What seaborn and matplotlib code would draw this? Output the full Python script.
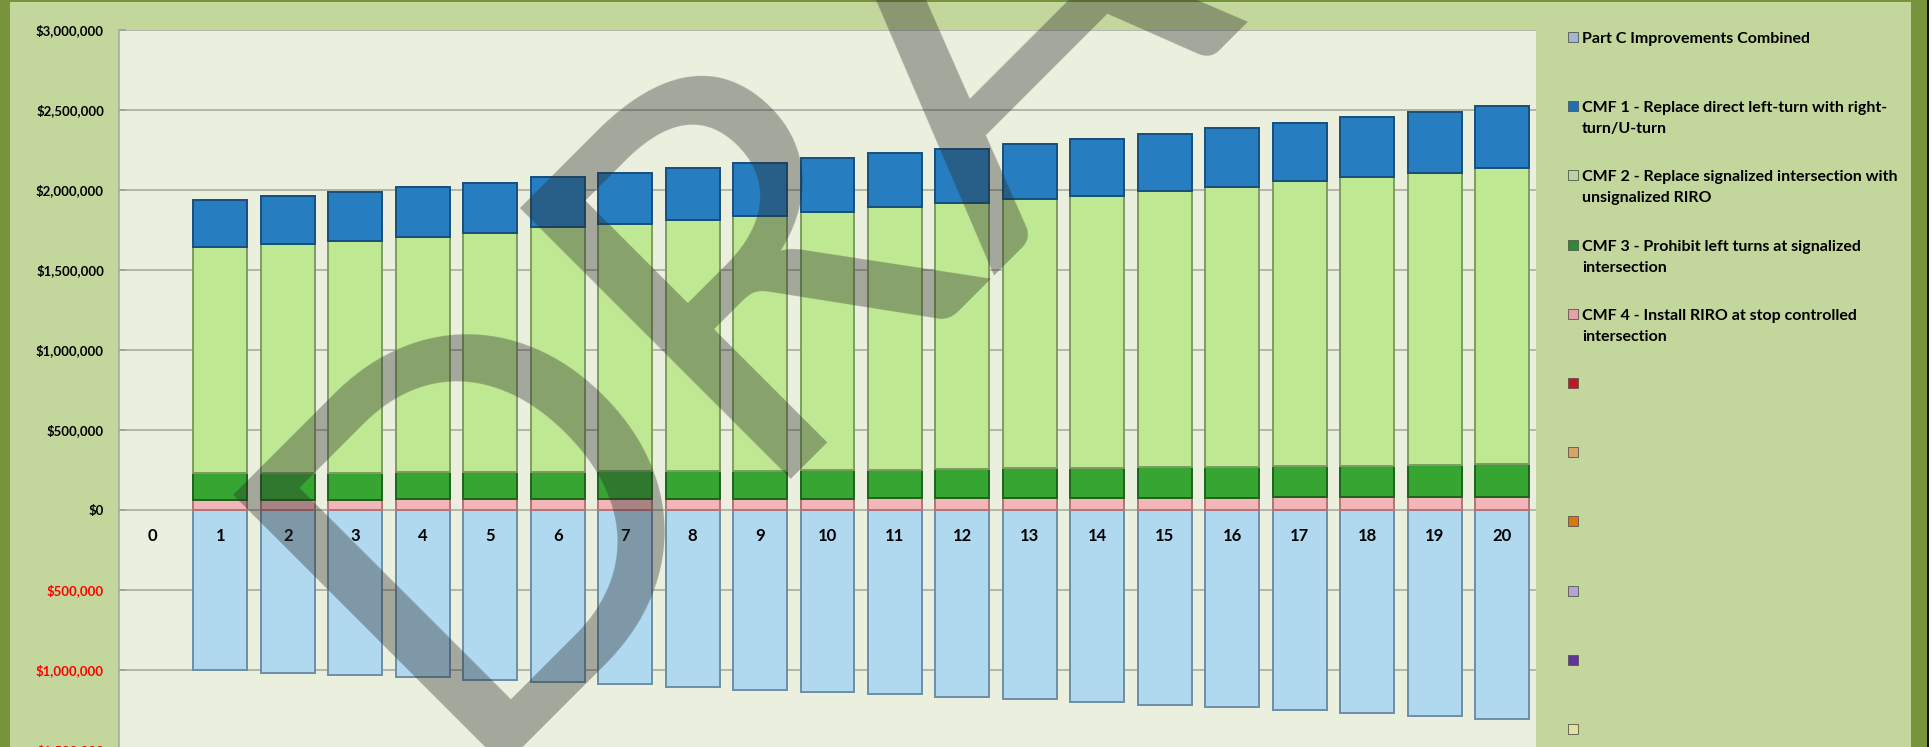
import matplotlib
matplotlib.use("Agg")
import matplotlib.pyplot as plt
import seaborn as sns
import pandas as pd
import numpy as np
from matplotlib.patches import Rectangle

# ---------------- data ----------------
categories = list(range(0, 21))
years = list(range(1, 21))

part_c = [-1000000, -1017000, -1031000, -1044000, -1060000, -1073000, -1090000,
          -1106000, -1123000, -1137000, -1149000, -1169000, -1183000, -1200000,
          -1217000, -1233000, -1250000, -1267000, -1288000, -1306000]
cmf1 = [296000, 300000, 306000, 308000, 315000, 312000, 321000, 325000, 330000,
        336000, 337000, 341000, 347000, 357000, 361000, 366000, 365000, 374000,
        378000, 386000]
cmf2 = [1410000, 1430000, 1449000, 1473000, 1492000, 1528000, 1546000, 1569000,
        1591000, 1613000, 1639000, 1660000, 1683000, 1700000, 1725000, 1751000,
        1781000, 1802000, 1827000, 1852000]
cmf3 = [167000, 167000, 169000, 169000, 170000, 172000, 173000, 174000, 176000,
        178000, 181000, 184000, 186000, 189000, 191000, 193000, 195000, 198000,
        201000, 204000]
cmf4 = [64000, 65000, 65000, 66000, 67000, 67000, 68000, 69000, 70000, 71000,
        72000, 73000, 74000, 75000, 76000, 77000, 79000, 80000, 81000, 83000]

legend_labels = [
    "Part C Improvements Combined",
    "CMF 1 - Replace direct left-turn with right-\nturn/U-turn",
    "CMF 2 - Replace signalized intersection with\nunsignalized RIRO",
    "CMF 3 - Prohibit left turns at signalized\nintersection",
    "CMF 4 - Install RIRO at stop controlled\nintersection",
    "", "", "", "", "", "",
]
legend_colors = ["#9fb7cf", "#1f6fb0", "#b7d7a0", "#2e8b2e", "#e8a0a8",
                 "#c8141e", "#d8a464", "#e07800", "#b4a4d2", "#64329a", "#e2e29a"]

y_ticks = [-1500000, -1000000, -500000, 0, 500000, 1000000, 1500000,
           2000000, 2500000, 3000000]

# ---------------- style ----------------
sns.set_theme(style="white")
plt.rcParams['font.family'] = ['Lato', 'DejaVu Sans']

W, H = 1932, 747
fig = plt.figure(figsize=(W / 100, H / 100), dpi=100)
fig.patch.set_facecolor('#c3d69b')


def fx(x):
    return x / W


def fy(y):
    return 1 - y / H


# frame borders
fig.add_artist(Rectangle((0, 0), fx(10), 1, transform=fig.transFigure,
                         facecolor='#77933c', edgecolor='none'))
fig.add_artist(Rectangle((0, fy(2)), 1, 2 / H, transform=fig.transFigure,
                         facecolor='#77933c', edgecolor='none'))
fig.add_artist(Rectangle((fx(1911), 0), 16 / W, 1, transform=fig.transFigure,
                         facecolor='#77933c', edgecolor='none'))
fig.add_artist(Rectangle((fx(1927), 0), 2 / W, 1, transform=fig.transFigure,
                         facecolor='#111111', edgecolor='none'))
fig.add_artist(Rectangle((fx(1929), 0), 3 / W, 1, transform=fig.transFigure,
                         facecolor='white', edgecolor='none'))

ax = fig.add_axes([fx(119), fy(750), (1536 - 119) / W, 720 / H])
ax.set_facecolor('#ebf0de')

df = pd.DataFrame({"year": years, "part_c": part_c, "cmf1": cmf1,
                   "cmf2": cmf2, "cmf3": cmf3, "cmf4": cmf4})

b4 = np.zeros(len(years))
b3 = b4 + np.array(cmf4)
b2 = b3 + np.array(cmf3)
b1 = b2 + np.array(cmf2)

layers = [
    ("part_c", np.zeros(len(years)), "#b0d8ef", "#6d8ea8"),
    ("cmf4", b4, "#f3b6b8", "#b57377"),
    ("cmf3", b3, "#36a532", "#1d641d"),
    ("cmf2", b2, "#bfe892", "#7f9c62"),
    ("cmf1", b1, "#267ec0", "#174f7c"),
]
for col, bottom, fc, ec in layers:
    sns.barplot(data=df, x="year", y=col, order=categories, color=fc,
                saturation=1, width=0.8, errorbar=None, bottom=bottom,
                edgecolor=ec, linewidth=1.4, ax=ax)

ax.set_xlim(-0.5, len(categories) - 0.5)
ax.set_ylim(-1500000, 3000000)
ax.set_xlabel("")
ax.set_ylabel("")
ax.set_xticks([])

ax.set_yticks(y_ticks)
ax.set_yticklabels(["${:,.0f}".format(abs(v)) for v in y_ticks],
                   fontweight='bold', fontsize=9.5)
for lab, v in zip(ax.get_yticklabels(), y_ticks):
    lab.set_color('#ff0000' if v < 0 else 'black')
ax.tick_params(axis='y', direction='in', length=5, color='#a0a0a0',
               pad=10.8, left=True)
ax.yaxis.grid(True, color='#a4a49c', linewidth=1.1)
ax.set_axisbelow(True)
for s in ['top', 'right', 'bottom']:
    ax.spines[s].set_visible(False)
ax.spines['left'].set_color('#a4a49c')
ax.spines['left'].set_linewidth(1.1)

# category labels next to the zero line
for i, c in enumerate(categories):
    ax.annotate(str(c), xy=(i, 0), xytext=(0, -18.7), textcoords='offset points',
                ha='center', va='center', fontsize=12, fontweight='bold',
                color='black', zorder=5)

# legend (manual, fixed spacing)
for k, (lab, colr) in enumerate(zip(legend_labels, legend_colors)):
    yc = 37 + 69.2 * k
    fig.add_artist(Rectangle((fx(1568), fy(yc + 5)), 10 / W, 10 / H,
                             transform=fig.transFigure, facecolor=colr,
                             edgecolor='#555555', linewidth=0.6))
    for j, line in enumerate(lab.split("\n")):
        if line:
            fig.text(fx(1582), fy(yc + 6 + 21 * j), line, ha='left',
                     va='baseline', fontsize=11.5, fontweight='bold',
                     color='black')

# watermark
fig.text(fx(455), fy(766), "DRAFT", fontsize=385, family='Lato',
         rotation=45, rotation_mode='anchor', ha='left', va='baseline',
         color='#2a2a2a', alpha=0.37, zorder=10)

fig.savefig("out.png", dpi=100, facecolor=fig.get_facecolor())
